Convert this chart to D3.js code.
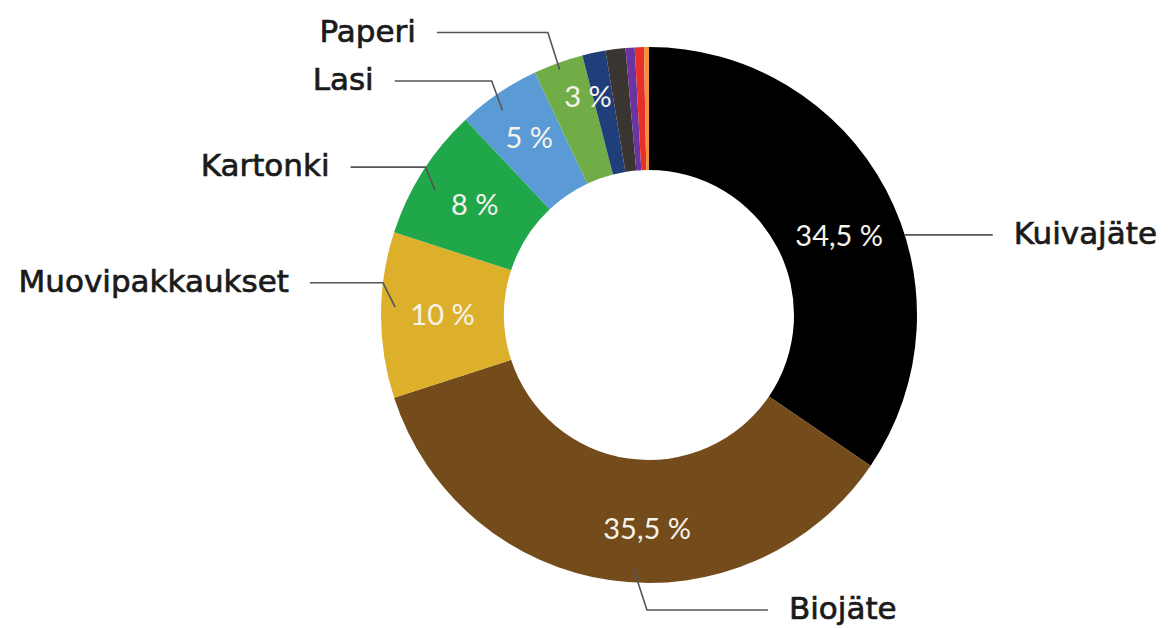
<!DOCTYPE html>
<html>
<head>
<meta charset="utf-8">
<script src="https://cdn.jsdelivr.net/npm/d3@7"></script>
<style>
  html, body { margin: 0; padding: 0; background: #fff; }
  .outLabel { font-family: 'DejaVu Sans', sans-serif; font-size: 31px; fill: #1a1a1a; stroke: #1a1a1a; stroke-width: 0.7px; }
  .pctLabel { font-family: Lato, sans-serif; font-size: 29px; fill: #f6f3ea; text-anchor: middle; }
</style>
</head>
<body>
<div id="chart"></div>
<script>
// Data: share of waste fractions (%)
var categories = ['Kuivajäte', 'Biojäte', 'Muovipakkaukset', 'Kartonki', 'Lasi', 'Paperi', '', '', '', '', '']
var shares = [34.5, 35.5, 10, 8, 5, 3, 1.4, 1.2, 0.55, 0.55, 0.3]
var pctLabels = ['34,5 %', '35,5 %', '10 %', '8 %', '5 %', '3 %', '', '', '', '', '']
var colours = ['#000000', '#744b1b', '#ddb02c', '#1fa74a', '#5b9bd5', '#70ad47',
  '#203f7a', '#3a3530', '#6a35a0', '#e8302a', '#f39040']

// Layout variables
var width = 1173
var height = 628
var cx = 649
var cy = 315
var outerR = 268
var innerR = 145

// Label tweaks in polar form (degrees clockwise from 12 o'clock, radius)
var pctPlace = { 0: [67.4, 206], 1: [180.5, 214], 4: [326, 214], 5: [344.4, 227] }
var leaders = {
  0: { start: [72.6, 268], elbow: [72.6, 268], len: 88, side: 1 },
  1: { start: [183.6, 253], elbow: [180.4, 295], len: 121, side: 1 },
  2: { start: [271.8, 254], elbow: [276.9, 268], len: 73, side: -1 },
  3: { start: [300.3, 248], elbow: [303.5, 268], len: 75, side: -1 },
  4: { start: [324.4, 252], elbow: [326.1, 282], len: 97, side: -1 },
  5: { start: [340, 261], elbow: [340.3, 300], len: 111, side: -1 }
}

function polar (deg, r) {
  var a = deg * Math.PI / 180
  return [cx + r * Math.sin(a), cy - r * Math.cos(a)]
}

var svg = d3.select('#chart').append('svg')
  .attr('width', width)
  .attr('height', height)

var pie = d3.pie().sort(null).value(function (d) { return d })
var arcs = pie(shares)

var arc = d3.arc().innerRadius(innerR).outerRadius(outerR)

var g = svg.append('g')
  .attr('transform', 'translate(' + cx + ',' + cy + ')')

g.selectAll('.slice')
  .data(arcs)
  .enter().append('path')
  .attr('class', 'slice')
  .attr('d', arc)
  .style('fill', function (d, i) { return colours[i] })

// Percentage labels inside the ring
svg.selectAll('.pctLabel')
  .data(arcs.filter(function (d, i) { return pctLabels[i] }))
  .enter().append('text')
  .attr('class', 'pctLabel')
  .attr('x', function (d) { return pos(d)[0] })
  .attr('y', function (d) { return pos(d)[1] })
  .attr('dy', '0.35em')
  .text(function (d) { return pctLabels[d.index] })

function pos (d) {
  var p = pctPlace[d.index]
  var mid = (d.startAngle + d.endAngle) / 2 * 180 / Math.PI
  return p ? polar(p[0], p[1]) : polar(mid, (innerR + outerR) / 2)
}

// Leader lines and category labels
var labelled = arcs.filter(function (d, i) { return categories[i] })

svg.selectAll('.leader')
  .data(labelled)
  .enter().append('polyline')
  .attr('class', 'leader')
  .attr('points', function (d) {
    var l = leaders[d.index]
    var s = polar(l.start[0], l.start[1])
    var e = polar(l.elbow[0], l.elbow[1])
    return [s, e, [e[0] + l.side * l.len, e[1]]].join(' ')
  })
  .style('fill', 'none')
  .style('stroke', '#555')
  .style('stroke-width', '1.6px')

svg.selectAll('.outLabel')
  .data(labelled)
  .enter().append('text')
  .attr('class', 'outLabel')
  .attr('x', function (d) {
    var l = leaders[d.index]
    var e = polar(l.elbow[0], l.elbow[1])
    return e[0] + l.side * (l.len + 21)
  })
  .attr('y', function (d) {
    var l = leaders[d.index]
    return polar(l.elbow[0], l.elbow[1])[1] + 9
  })
  .attr('text-anchor', function (d) { return leaders[d.index].side > 0 ? 'start' : 'end' })
  .text(function (d) { return categories[d.index] })
</script>
</body>
</html>
